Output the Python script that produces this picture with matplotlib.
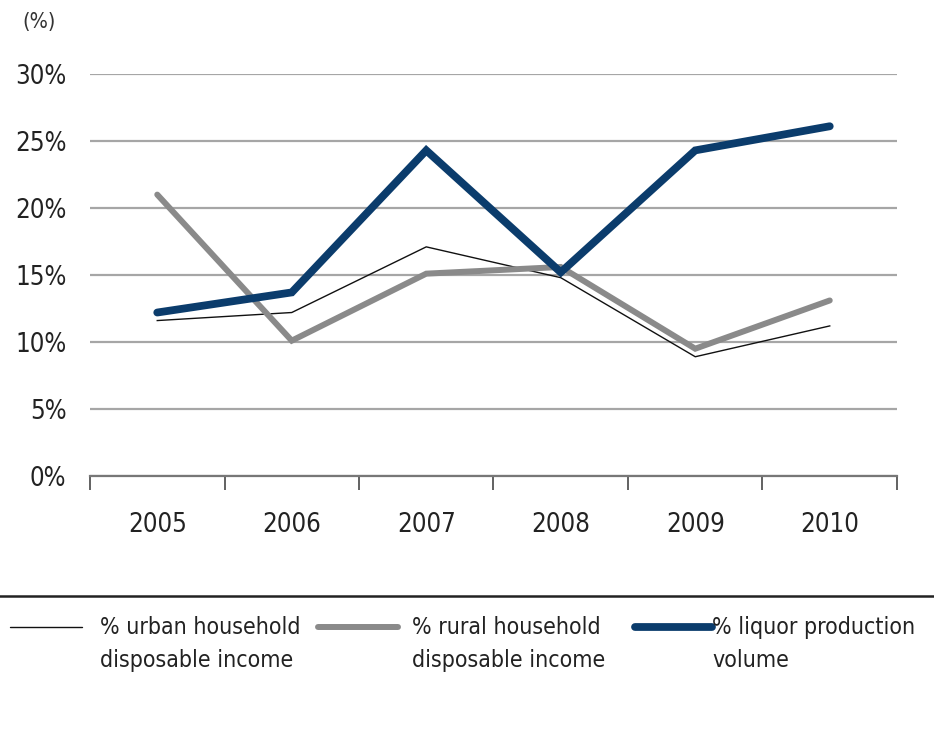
import matplotlib
matplotlib.use("Agg")
import matplotlib.pyplot as plt
from matplotlib import font_manager
from matplotlib.font_manager import FontProperties
from matplotlib.lines import Line2D

# Growth rates, % year on year
years = ["2005", "2006", "2007", "2008", "2009", "2010"]
urban_income = [11.6, 12.2, 17.1, 14.8, 8.9, 11.2]
rural_income = [21.0, 10.1, 15.1, 15.6, 9.5, 13.1]
liquor_volume = [12.2, 13.7, 24.3, 15.2, 24.3, 26.1]

labels = [
    "% urban household\ndisposable income",
    "% rural household\ndisposable income",
    "% liquor production\nvolume",
]
yticks = [0, 5, 10, 15, 20, 25, 30]

# prefer a narrow face when one is installed
names = {f.name for f in font_manager.fontManager.ttflist}
condensed = False
if "Liberation Sans Narrow" in names:
    plt.rcParams["font.family"] = ["Liberation Sans Narrow", "DejaVu Sans"]
    condensed = True
else:
    path = font_manager.findfont(FontProperties(family="DejaVu Sans", stretch="condensed"),
                                 fallback_to_default=True)
    if "Condensed" in path:
        plt.rcParams["font.family"] = ["DejaVu Sans"]
        plt.rcParams["font.stretch"] = "condensed"
        condensed = True
    else:
        plt.rcParams["font.family"] = ["Liberation Sans", "DejaVu Sans"]

tick_fs = 18.5 if condensed else 18
key_fs = 16.6 if condensed else 16.5

NAVY = "#0b3c6c"
GREY = "#8a8a8a"
BLACK = "#111111"
GRID = "#a6a6a6"
TEXT = "#222222"

fig = plt.figure(figsize=(9.34, 7.53), dpi=100)
ax = fig.add_axes([90 / 934, 1 - 476 / 753, 807 / 934, 402 / 753])

x = list(range(len(years)))
ax.plot(x, urban_income, color=BLACK, lw=1.0, zorder=3)
ax.plot(x, rural_income, color=GREY, lw=4.3, zorder=4, solid_capstyle="round", solid_joinstyle="miter")
ax.plot(x, liquor_volume, color=NAVY, lw=5.6, zorder=5, solid_capstyle="round", solid_joinstyle="miter")

ax.set_xlim(-0.5, len(years) - 0.5)
ax.set_ylim(0, 30)
ax.set_yticks(yticks)
ax.set_yticklabels([f"{v}%" for v in yticks], fontsize=tick_fs, color=TEXT)
ax.yaxis.grid(True, color=GRID, lw=1.6)
ax.set_axisbelow(True)

ax.set_xticks(x)
ax.set_xticklabels(years, fontsize=tick_fs, color=TEXT)
ax.set_xticks([i - 0.5 for i in range(len(years) + 1)], minor=True)
ax.tick_params(axis="x", which="major", length=0, pad=26)
ax.tick_params(axis="x", which="minor", length=10, width=1.3, color="#555555", direction="out")
ax.tick_params(axis="y", length=0, pad=17)

for s in ("top", "right", "left"):
    ax.spines[s].set_visible(False)
ax.spines["bottom"].set_color("#777777")
ax.spines["bottom"].set_linewidth(1.6)

fig.text(22 / 934, 1 - 22 / 753, "(%)", fontsize=15.5, color="#333333", va="center", ha="left")

# separator rule above the key
fig.add_artist(Line2D([0, 1], [1 - 596 / 753] * 2, transform=fig.transFigure,
                      color="#222222", lw=1.8))

# key
styles = [(BLACK, 1.0), (GREY, 4.3), (NAVY, 5.6)]
handle_x = [(10, 82), (318, 398), (635, 712)]
text_x = [100, 412, 712]
ky = 1 - 627 / 753
for (c, lw), (x0, x1), tx, lab in zip(styles, handle_x, text_x, labels):
    fig.add_artist(Line2D([x0 / 934, x1 / 934], [ky, ky], transform=fig.transFigure,
                          color=c, lw=lw, solid_capstyle="round"))
    fig.text(tx / 934, 1 - 616 / 753, lab, fontsize=key_fs, color=TEXT,
             va="top", ha="left", linespacing=1.55)

fig.savefig("out.png", dpi=100, facecolor="white")
